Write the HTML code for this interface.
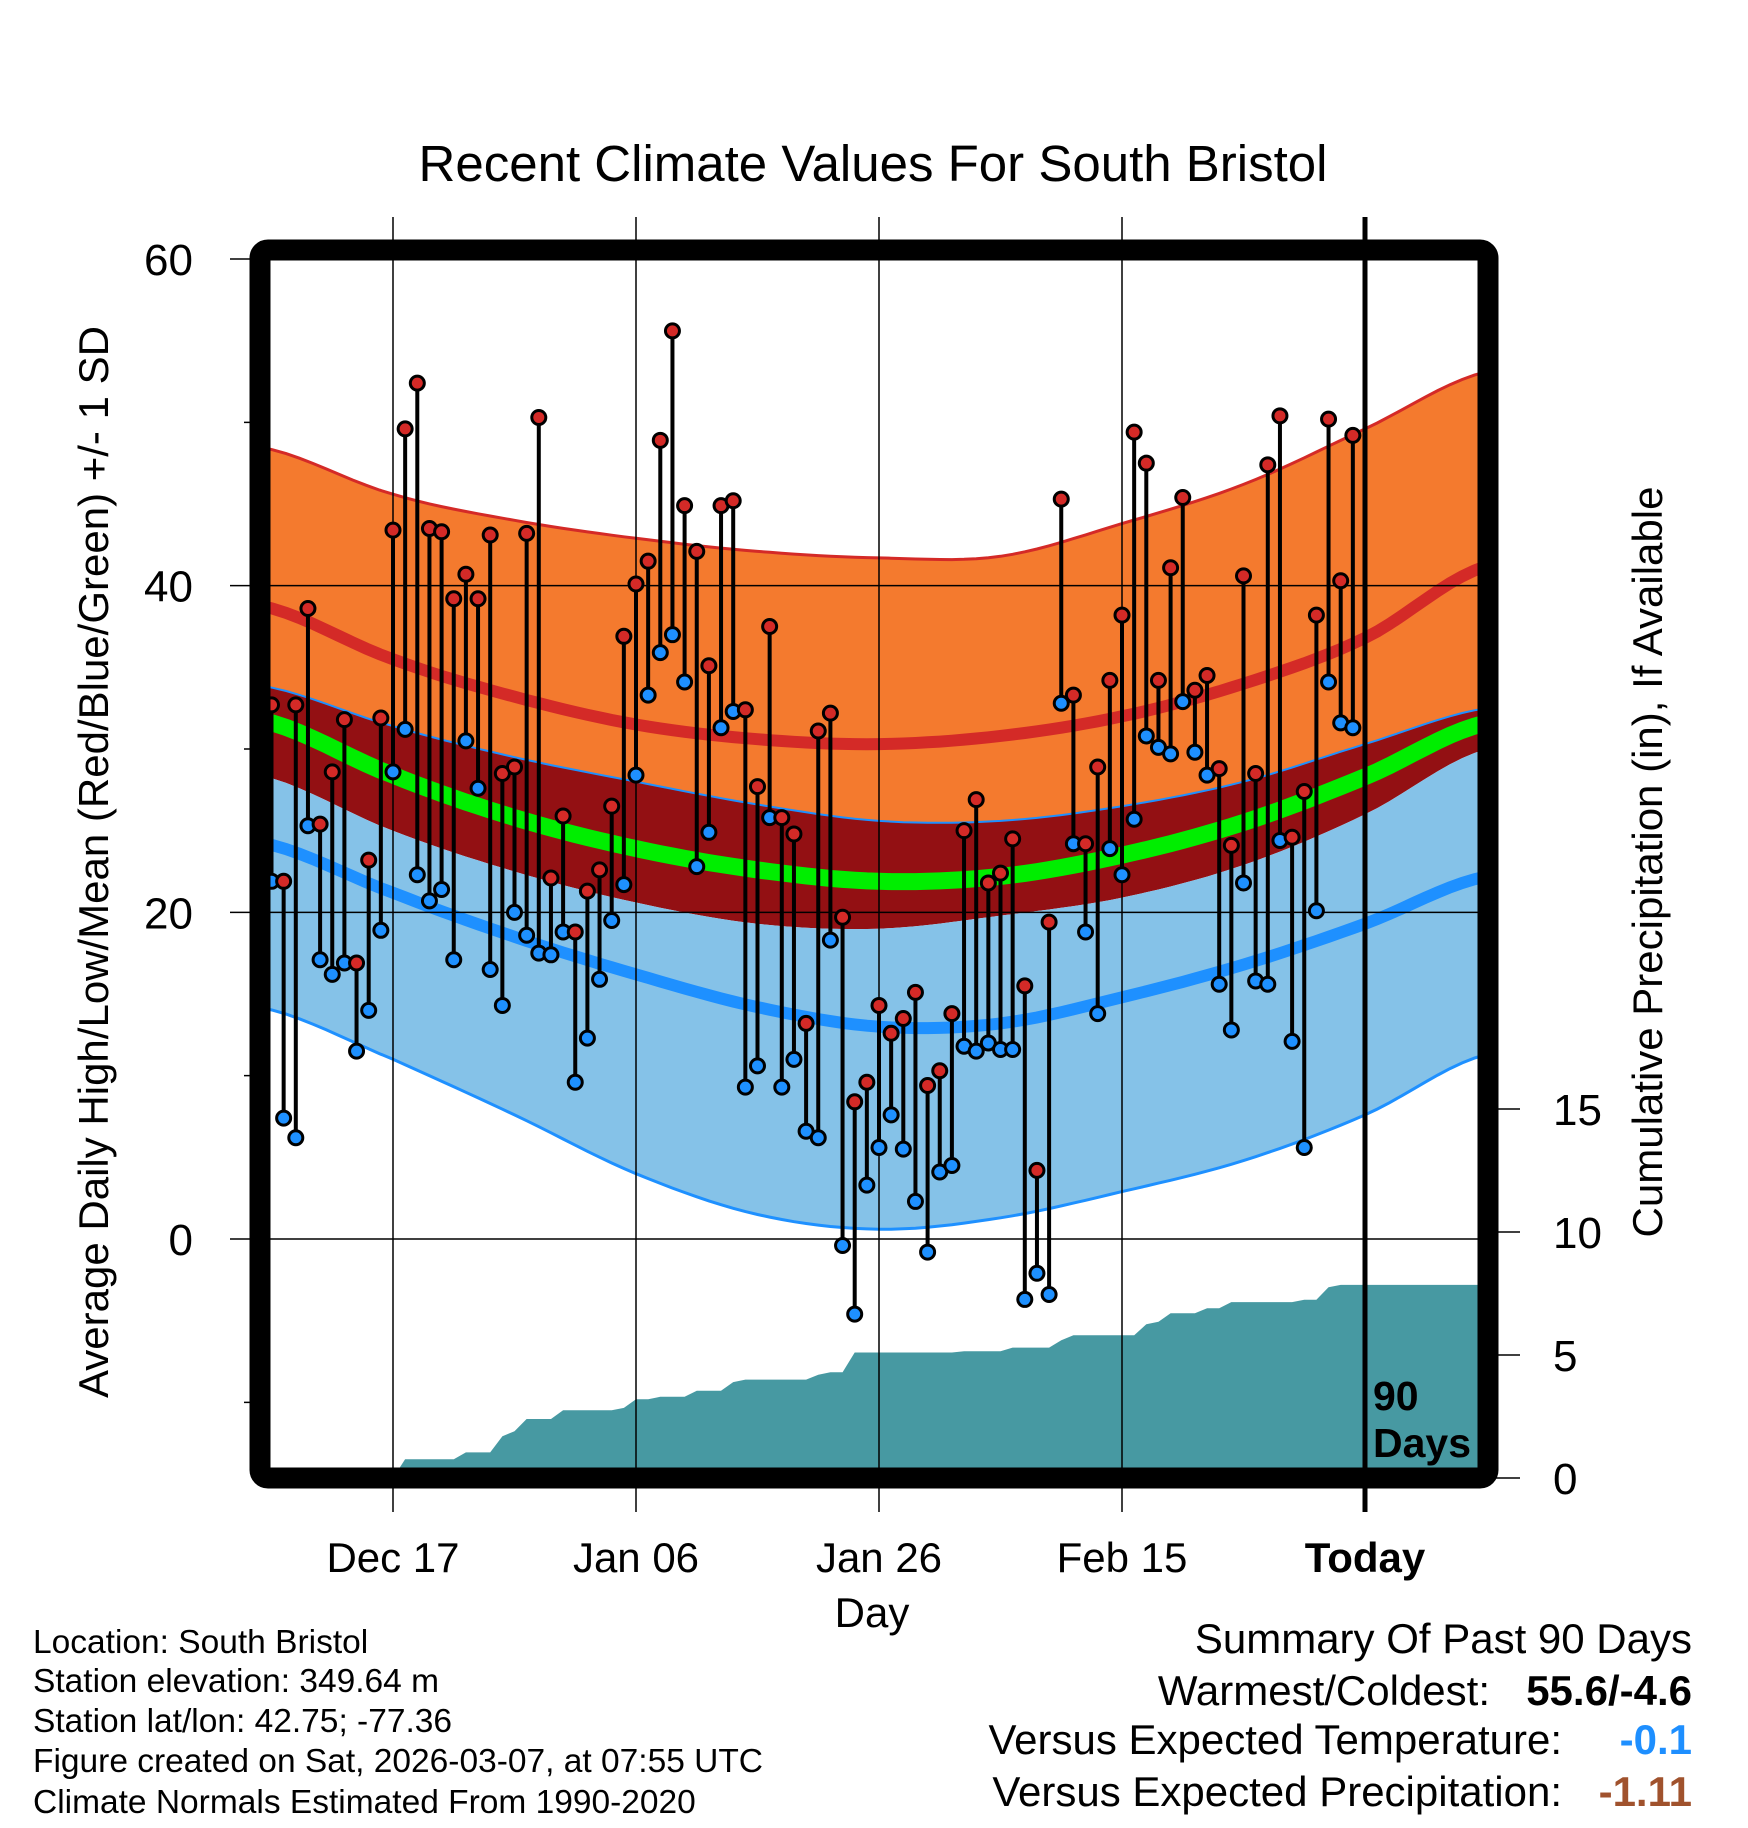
<!DOCTYPE html>
<html><head><meta charset="utf-8"><style>
body{margin:0;background:#fff;}
svg{display:block;font-family:"Liberation Sans",sans-serif;}
</style></head><body>
<svg id="chart" width="1748" height="1828" viewBox="0 0 1748 1828" xmlns="http://www.w3.org/2000/svg">
<text x="873" y="181" font-size="51" text-anchor="middle">Recent Climate Values For South Bristol</text>
<text transform="translate(108,862) rotate(-90)" font-size="42" text-anchor="middle">Average Daily High/Low/Mean (Red/Blue/Green) +/- 1 SD</text>
<text transform="translate(1662,862) rotate(-90)" font-size="42" text-anchor="middle">Cumulative Precipitation (in), If Available</text>
<text x="872" y="1627" font-size="42" text-anchor="middle">Day</text>
<g id="plot"></g>
<g font-size="33.5">
<text x="33" y="1653">Location: South Bristol</text>
<text x="33" y="1692">Station elevation: 349.64 m</text>
<text x="33" y="1732">Station lat/lon: 42.75; -77.36</text>
<text x="33" y="1772">Figure created on Sat, 2026-03-07, at 07:55 UTC</text>
<text x="33" y="1813">Climate Normals Estimated From 1990-2020</text>
</g>
<g font-size="42">
<text x="1692" y="1653" text-anchor="end">Summary Of Past 90 Days</text>
<text x="1490" y="1705" text-anchor="end">Warmest/Coldest:</text>
<text x="1692" y="1705" text-anchor="end" font-weight="bold">55.6/-4.6</text>
<text x="1562" y="1754" text-anchor="end">Versus Expected Temperature:</text>
<text x="1692" y="1754" text-anchor="end" font-weight="bold" fill="#1e8fff">-0.1</text>
<text x="1562" y="1806" text-anchor="end">Versus Expected Precipitation:</text>
<text x="1692" y="1806" text-anchor="end" font-weight="bold" fill="#a0522d">-1.11</text>
</g>
</svg>
<script>
const highs=[32.7,21.9,32.7,38.6,25.4,28.6,31.8,16.9,23.2,31.9,43.4,49.6,52.4,43.5,43.3,39.2,40.7,39.2,43.1,28.5,28.9,43.2,50.3,22.1,25.9,18.8,21.3,22.6,26.5,36.9,40.1,41.5,48.9,55.6,44.9,42.1,35.1,44.9,45.2,32.4,27.7,37.5,25.8,24.8,13.2,31.1,32.2,19.7,8.4,9.6,14.3,12.6,13.5,15.1,9.4,10.3,13.8,25.0,26.9,21.8,22.4,24.5,15.5,4.2,19.4,45.3,33.3,24.2,28.9,34.2,38.2,49.4,47.5,34.2,41.1,45.4,33.6,34.5,28.8,24.1,40.6,28.5,47.4,50.4,24.6,27.4,38.2,50.2,40.3,49.2];
const lows=[21.9,7.4,6.2,25.3,17.1,16.2,16.9,11.5,14.0,18.9,28.6,31.2,22.3,20.7,21.4,17.1,30.5,27.6,16.5,14.3,20.0,18.6,17.5,17.4,18.8,9.6,12.3,15.9,19.5,21.7,28.4,33.3,35.9,37.0,34.1,22.8,24.9,31.3,32.3,9.3,10.6,25.8,9.3,11.0,6.6,6.2,18.3,-0.4,-4.6,3.3,5.6,7.6,5.5,2.3,-0.8,4.1,4.5,11.8,11.5,12.0,11.6,11.6,-3.7,-2.1,-3.4,32.8,24.2,18.8,13.8,23.9,22.3,25.7,30.8,30.1,29.7,32.9,29.8,28.4,15.6,12.8,21.8,15.8,15.6,24.4,12.1,5.6,20.1,34.1,31.6,31.3];
const precipCum=[0,0,0,0,0,0,0,0,0,0,0,0.76,0.76,0.76,0.76,0.76,1.04,1.04,1.04,1.7,1.9,2.4,2.4,2.4,2.75,2.75,2.75,2.75,2.75,2.85,3.2,3.2,3.3,3.3,3.3,3.55,3.55,3.55,3.9,4.0,4.0,4.0,4.0,4.0,4.0,4.2,4.3,4.3,5.1,5.1,5.1,5.1,5.1,5.1,5.1,5.1,5.1,5.15,5.15,5.15,5.15,5.3,5.3,5.3,5.3,5.6,5.8,5.8,5.8,5.8,5.8,5.8,6.25,6.35,6.7,6.7,6.7,6.9,6.9,7.15,7.15,7.15,7.15,7.15,7.15,7.25,7.25,7.75,7.85,7.85];
const normDays=[-1,10,20,30,40,50,60,70,80,90,100];
const highPlusSD=[48.5,45.6,44.0,42.9,42.1,41.7,41.8,43.8,46.2,49.6,53.1];
const meanHigh=[38.8,35.5,33.2,31.5,30.6,30.3,30.8,32.0,34.0,36.8,41.2];
const highMinusSD=[33.9,31.4,29.5,28.0,26.6,25.6,25.6,26.5,28.0,30.3,32.5];
const meanTemp=[31.8,28.4,25.8,23.9,22.6,21.9,22.2,23.5,25.5,28.3,31.6];
const lowPlusSD=[28.4,25.0,22.5,20.6,19.3,19.0,19.8,20.9,22.9,26.0,30.0];
const meanLow=[24.3,21.2,18.5,16.2,14.2,13.0,13.2,14.8,16.8,19.3,22.2];
const lowMinusSD=[14.2,11.0,7.6,4.0,1.5,0.6,1.3,2.9,4.8,7.6,11.3];
const yTicks=[0,20,40,60];
const yMinor=[-10,10,30,50];
const pTicks=[0,5,10,15];
const xTickDays=[10,30,50,70,90];
const xTickLabels=["Dec 17","Jan 06","Jan 26","Feb 15","Today"];

const X0=271.5,DX=12.15;
const xs=d=>X0+d*DX;
const ys=t=>1239-t*16.333;
const yp=p=>1478-p*24.6;
const L=270,R=1478,T=260,B=1468;
const NS="http://www.w3.org/2000/svg";
const plot=document.getElementById('plot');
function mk(tag,attrs,parent){const e=document.createElementNS(NS,tag);for(const k in attrs)e.setAttribute(k,attrs[k]);(parent||plot).appendChild(e);return e;}
function smooth(arr){
  const pts=[];
  for(let i=0;i<arr.length-1;i++){
    const p0=arr[Math.max(i-1,0)],p1=arr[i],p2=arr[i+1],p3=arr[Math.min(i+2,arr.length-1)];
    const d0=normDays[i],d1=normDays[i+1];
    for(let s=0;s<10;s++){const t=s/10;
      const v=0.5*((2*p1)+(-p0+p2)*t+(2*p0-5*p1+4*p2-p3)*t*t+(-p0+3*p1-3*p2+p3)*t*t*t);
      pts.push([xs(d0+(d1-d0)*t),ys(v)]);}
  }
  pts.push([xs(normDays[normDays.length-1]),ys(arr[arr.length-1])]);
  return pts;
}
const ptsStr=p=>p.map(q=>q[0].toFixed(1)+','+q[1].toFixed(1)).join(' ');
function band(top,bot,fill,name){
  const a=smooth(top),b=smooth(bot).reverse();
  const e=mk('polygon',{points:ptsStr(a.concat(b)),fill:fill,'clip-path':'url(#clipP)'});
  
  
  return e;
}
function line(arr,stroke,w,name){
  const e=mk('polyline',{points:ptsStr(smooth(arr)),fill:'none',stroke:stroke,'stroke-width':w,'clip-path':'url(#clipP)'});
  
  
  return e;
}
const defs=mk('defs',{});
const cp=mk('clipPath',{id:'clipP'},defs);
mk('rect',{x:L,y:T,width:R-L,height:B-T},cp);

band(highPlusSD,highMinusSD,'#f47a2e','high-sd-band');
band(highMinusSD,lowPlusSD,'#931013','overlap-band');
band(lowPlusSD,lowMinusSD,'#85c2e8','low-sd-band');
line(highPlusSD,'#d42a27',3,'high-plus-sd-line');
line(highMinusSD,'#1e90ff',2,'high-minus-sd-line');
line(lowMinusSD,'#1e90ff',3,'low-minus-sd-line');
line(meanTemp,'#00ee00',17,'mean-temp-line');
line(meanHigh,'#d42a27',12,'mean-high-line');
line(meanLow,'#1e90ff',12,'mean-low-line');

const pp=[[xs(-1),yp(0)]];
precipCum.forEach((v,i)=>pp.push([xs(i),yp(v)]));
pp.push([xs(100),yp(precipCum[precipCum.length-1])]);
pp.push([xs(100),yp(0)]);
const pa=mk('polygon',{points:ptsStr(pp),fill:'#4799a2','clip-path':'url(#clipP)'});



yTicks.forEach(t=>{
  const g=mk('line',{x1:230,x2:R,y1:ys(t),y2:ys(t),stroke:'#000','stroke-width':1.5});
  
  
  const lb=mk('text',{x:193,y:ys(t)+16,'font-size':44,'text-anchor':'end'});
  lb.textContent=t;
  
  
});
yMinor.forEach(t=>{
  const g=mk('line',{x1:244,x2:L,y1:ys(t),y2:ys(t),stroke:'#000','stroke-width':1.5});
  
  
});
xTickDays.forEach((d,i)=>{
  const g=mk('line',{x1:xs(d),x2:xs(d),y1:217,y2:1512,stroke:'#000','stroke-width':i==4?5:1.5});
  
  
  const lb=mk('text',{x:xs(d),y:1572,'font-size':42,'text-anchor':'middle','font-weight':i==4?'bold':'normal'});
  lb.textContent=xTickLabels[i];
  
  
});
pTicks.forEach(p=>{
  const g=mk('line',{x1:1496,x2:1520,y1:yp(p),y2:yp(p),stroke:'#000','stroke-width':1.5});
  
  
  const lb=mk('text',{x:1553,y:yp(p)+16,'font-size':44});
  lb.textContent=p;
  
  
});

highs.forEach((h,i)=>{
  const lo=lows[i],x=xs(i);
  const s=mk('line',{x1:x,x2:x,y1:ys(h),y2:ys(lo),stroke:'#000','stroke-width':4});
  
  
});
highs.forEach((h,i)=>{
  const x=xs(i);
  const c1=mk('circle',{cx:x,cy:ys(h),r:7,fill:'#d42a27',stroke:'#000','stroke-width':3});
  
  
  const c2=mk('circle',{cx:x,cy:ys(lows[i]),r:7,fill:'#1e90ff',stroke:'#000','stroke-width':3});
  
  
});

const t1=mk('text',{x:1373,y:1410,'font-size':41,'font-weight':'bold'});t1.textContent='90';


const t2=mk('text',{x:1373,y:1457,'font-size':41,'font-weight':'bold'});t2.textContent='Days';



const fr=mk('rect',{x:L-10,y:T-10,width:R-L+20,height:B-T+20,fill:'none',stroke:'#000','stroke-width':21,rx:8});


</script>
</body></html>
